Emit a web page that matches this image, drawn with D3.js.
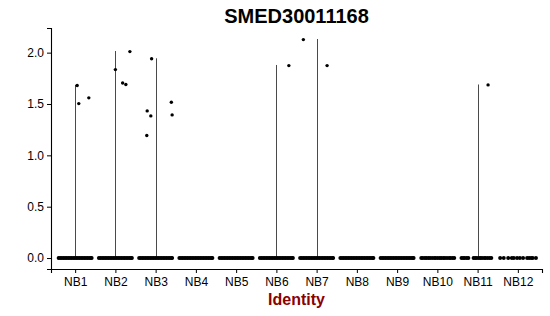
<!DOCTYPE html>
<html>
<head>
<meta charset="utf-8">
<script src="https://cdn.jsdelivr.net/npm/d3@7"></script>
<style>
  body { margin: 0; background: #fff; }
  svg { display: block; font-family: "Liberation Sans", Arial, sans-serif; }
</style>
</head>
<body>
<div id="chart"></div>
<script>
// categories + violin tops (violins are squashed to a line since most cells are 0)
const categories = ["NB1", "NB2", "NB3", "NB4", "NB5", "NB6", "NB7", "NB8", "NB9", "NB10", "NB11", "NB12"];
const violinMax = [1.686, 2.016, 1.945, 0, 0, 1.88, 2.133, 0, 0, 0, 1.69, 0];
const yTicks = [0, 0.5, 1.0, 1.5, 2.0];

// expressing cells: category, jitter offset (band units), value
const exprCat = ["NB1", "NB1", "NB1", "NB2", "NB2", "NB2", "NB2",
                 "NB3", "NB3", "NB3", "NB3", "NB3", "NB3", "NB6", "NB7", "NB7", "NB11"];
const exprOffset = [0.05, 0.09, 0.34, 0.0, 0.18, 0.26, 0.36,
                    -0.10, -0.21, -0.12, -0.22, 0.39, 0.41, 0.31, -0.33, 0.26, 0.26];
const exprValue = [1.68, 1.504, 1.56, 1.835, 1.705, 1.69, 2.01,
                   1.94, 1.433, 1.384, 1.193, 1.517, 1.394, 1.874, 2.127, 1.874, 1.686];

// zero cells: jitter offsets
const denseZero = [-0.41, -0.37, -0.33, -0.29, -0.25, -0.21, -0.17, -0.13, -0.09, -0.05, -0.01,
                   0.03, 0.07, 0.11, 0.15, 0.19, 0.23, 0.27, 0.31, 0.35, 0.39, 0.41];
const nb10Zero = [-0.40, -0.36, -0.31, -0.27, -0.22, -0.18, -0.13, -0.08, -0.04, 0.01,
                  0.06, 0.10, 0.15, 0.19, 0.24, 0.29, 0.33, 0.38, 0.42];
const nb11Zero = [-0.40, -0.36, -0.32, -0.27, -0.23, -0.10, -0.06, -0.02, 0.03, 0.07,
                  0.11, 0.16, 0.20, 0.25, 0.30, 0.34];
const nb12Zero = [-0.44, -0.35, -0.24, -0.15, -0.10, -0.02, 0.05, 0.13, 0.23, 0.28, 0.33, 0.37, 0.45];
const zeroOffsets = [denseZero, denseZero, denseZero, denseZero, denseZero, denseZero,
                     denseZero, denseZero, denseZero, nb10Zero, nb11Zero, nb12Zero];

const width = 550, height = 316;
const margin = {top: 28, right: 8, bottom: 47, left: 51};

const svg = d3.select("#chart").append("svg")
    .attr("width", width)
    .attr("height", height);

// discrete scale with ggplot's 0.6 expansion each side
const x = d3.scalePoint()
    .domain(categories)
    .range([margin.left, width - margin.right])
    .padding(0.6);
const step = x.step();

const y = d3.scaleLinear()
    .domain([-0.1067, 2.24])
    .range([height - margin.bottom, margin.top]);

// violins (degenerate -> vertical lines)
svg.append("g").selectAll("line")
    .data(categories.map((c, i) => ({c: c, max: violinMax[i]})).filter(d => d.max > 0))
    .enter().append("line")
    .attr("x1", d => Math.round(x(d.c)) + 0.5)
    .attr("x2", d => Math.round(x(d.c)) + 0.5)
    .attr("y1", y(0))
    .attr("y2", d => y(d.max))
    .attr("stroke", "#4a4a4a")
    .attr("stroke-width", 1);

// zero-valued cells
const zeros = [];
categories.forEach((c, i) => zeroOffsets[i].forEach(o => zeros.push({c: c, o: o})));
svg.append("g").selectAll("circle")
    .data(zeros)
    .enter().append("circle")
    .attr("cx", d => x(d.c) + d.o * step)
    .attr("cy", y(0))
    .attr("r", 2.0)
    .attr("fill", "#000");

// expressing cells
svg.append("g").selectAll("circle")
    .data(exprValue.map((v, i) => ({c: exprCat[i], o: exprOffset[i], v: v})))
    .enter().append("circle")
    .attr("cx", d => x(d.c) + d.o * step)
    .attr("cy", d => y(d.v))
    .attr("r", 1.7)
    .attr("fill", "#000");

// axes
const xAxis = svg.append("g")
    .attr("transform", `translate(0,${height - margin.bottom})`)
    .call(d3.axisBottom(x).tickSizeOuter(0).tickSize(4).tickPadding(4));
const yAxis = svg.append("g")
    .attr("transform", `translate(${margin.left},0)`)
    .call(d3.axisLeft(y).tickValues(yTicks).tickFormat(d3.format(".1f")).tickSizeOuter(0).tickSize(4).tickPadding(3));

[xAxis, yAxis].forEach(a => {
    a.select(".domain").attr("stroke", "#000").attr("stroke-width", 1.1);
    a.selectAll(".tick line").attr("stroke", "#000");
    a.selectAll(".tick text")
        .attr("fill", "#000")
        .style("font-family", "'Liberation Sans', Arial, sans-serif")
        .style("font-size", "12px");
});

// title and x label
svg.append("text")
    .attr("x", (margin.left + width - margin.right) / 2)
    .attr("y", 23)
    .attr("text-anchor", "middle")
    .style("font-size", "20px")
    .style("font-weight", "bold")
    .text("SMED30011168");

svg.append("text")
    .attr("x", (margin.left + width - margin.right) / 2)
    .attr("y", 305)
    .attr("text-anchor", "middle")
    .attr("fill", "#8b0000")
    .style("font-size", "16px")
    .style("font-weight", "bold")
    .text("Identity");
</script>
</body>
</html>
